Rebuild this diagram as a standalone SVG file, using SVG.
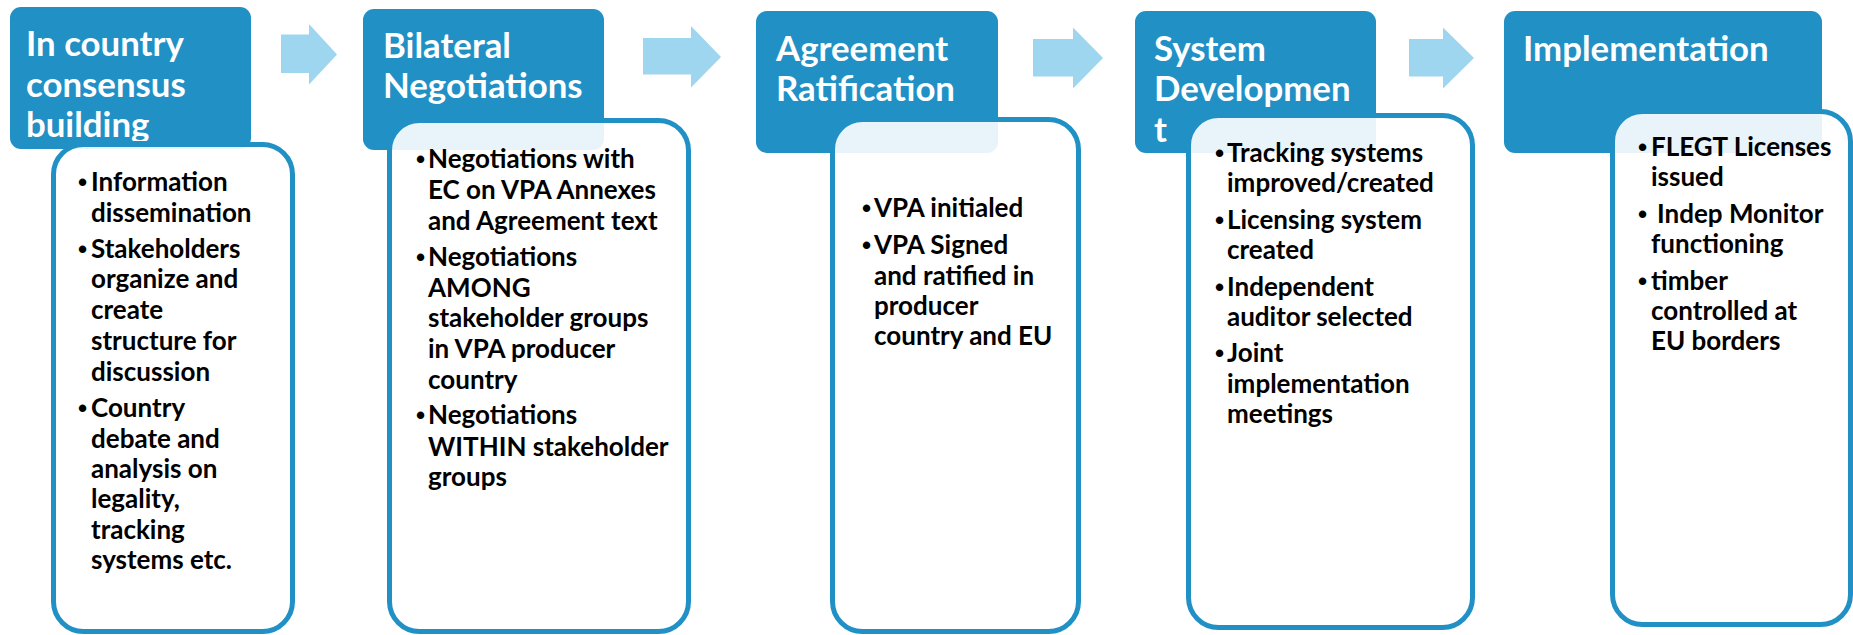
<svg xmlns="http://www.w3.org/2000/svg" width="1853" height="635" viewBox="0 0 1853 635">
  <style>
    .head { fill: #2190C5; }
    .body { fill: #FFFFFF; fill-opacity: 0.9; stroke: #2190C5; stroke-width: 5; }
    .arrow { fill: #9ED5EF; }
    .htxt { font-family: Lato, "Liberation Sans", sans-serif; font-weight: bold; font-size: 34.8px; fill: #FFFFFF; }
    .btxt { font-family: Lato, "Liberation Sans", sans-serif; font-weight: bold; font-size: 26px; fill: #000000; }
    .dot { font-family: "Liberation Sans", sans-serif; font-weight: bold; font-size: 26px; fill: #000000; }
  </style>
  <defs>
    <clipPath id="clip-head1">
      <rect x="10" y="7" width="241" height="134"/>
    </clipPath>
  </defs>
  <rect width="1853" height="635" fill="#FFFFFF"/>

  <!-- step arrows between stages -->
  <g id="connectors">
    <polygon class="arrow" points="281,34.5 309,34.5 309,24 337,54.5 309,84.5 309,73 281,73"/>
    <polygon class="arrow" points="643,38 691,38 691,26 721,57 691,87.5 691,74.5 643,74.5"/>
    <polygon class="arrow" points="1033,39 1073,39 1073,27.5 1103,58 1073,88.5 1073,76.5 1033,76.5"/>
    <polygon class="arrow" points="1409,39 1443,39 1443,27.5 1474,58 1443,88.5 1443,76.5 1409,76.5"/>
  </g>

  <g id="stage-consensus">
    <rect class="head" x="10" y="7" width="241" height="142" rx="11"/>
    <text class="htxt" clip-path="url(#clip-head1)">
      <tspan x="26" y="56">In country</tspan>
      <tspan x="26" y="97">consensus</tspan>
      <tspan x="26" y="137">building</tspan>
    </text>
    <rect class="body" x="53.5" y="144.5" width="239" height="487" rx="30"/>
    <text class="dot">
      <tspan x="78" y="191">•</tspan>
      <tspan x="78" y="258">•</tspan>
      <tspan x="78" y="417">•</tspan>
    </text>
    <text class="btxt">
      <tspan x="91" y="191">Information</tspan>
      <tspan x="91" y="222">dissemination</tspan>
      <tspan x="91" y="258">Stakeholders</tspan>
      <tspan x="91" y="288">organize and</tspan>
      <tspan x="91" y="319">create</tspan>
      <tspan x="91" y="350">structure for</tspan>
      <tspan x="91" y="381">discussion</tspan>
      <tspan x="91" y="417">Country</tspan>
      <tspan x="91" y="448">debate and</tspan>
      <tspan x="91" y="478">analysis on</tspan>
      <tspan x="91" y="508">legality,</tspan>
      <tspan x="91" y="539">tracking</tspan>
      <tspan x="91" y="569">systems etc.</tspan>
    </text>
  </g>

  <g id="stage-negotiations">
    <rect class="head" x="363" y="9" width="241" height="141" rx="11"/>
    <text class="htxt">
      <tspan x="383" y="58">Bilateral</tspan>
      <tspan x="383" y="98">Negotiations</tspan>
    </text>
    <rect class="body" x="389.5" y="120.5" width="299" height="511" rx="30"/>
    <text class="dot">
      <tspan x="416" y="168">•</tspan>
      <tspan x="416" y="266">•</tspan>
      <tspan x="416" y="424">•</tspan>
    </text>
    <text class="btxt">
      <tspan x="428" y="168">Negotiations with</tspan>
      <tspan x="428" y="199">EC on VPA Annexes</tspan>
      <tspan x="428" y="230">and Agreement text</tspan>
      <tspan x="428" y="266">Negotiations</tspan>
      <tspan x="428" y="297">AMONG</tspan>
      <tspan x="428" y="327">stakeholder groups</tspan>
      <tspan x="428" y="358">in VPA producer</tspan>
      <tspan x="428" y="389">country</tspan>
      <tspan x="428" y="424">Negotiations</tspan>
      <tspan x="428" y="456">WITHIN stakeholder</tspan>
      <tspan x="428" y="486">groups</tspan>
    </text>
  </g>

  <g id="stage-ratification">
    <rect class="head" x="756" y="11" width="242" height="142" rx="11"/>
    <text class="htxt">
      <tspan x="776" y="61">Agreement</tspan>
      <tspan x="776" y="101">Ratification</tspan>
    </text>
    <rect class="body" x="832.5" y="119.5" width="246" height="512" rx="30"/>
    <text class="dot">
      <tspan x="862" y="217">•</tspan>
      <tspan x="862" y="254">•</tspan>
    </text>
    <text class="btxt">
      <tspan x="874" y="217">VPA initialed</tspan>
      <tspan x="874" y="254">VPA Signed</tspan>
      <tspan x="874" y="285">and ratified in</tspan>
      <tspan x="874" y="315">producer</tspan>
      <tspan x="874" y="345">country and EU</tspan>
    </text>
  </g>

  <g id="stage-system">
    <rect class="head" x="1135" y="11" width="241" height="142" rx="11"/>
    <text class="htxt">
      <tspan x="1154" y="61">System</tspan>
      <tspan x="1154" y="101">Developmen</tspan>
      <tspan x="1154" y="142">t</tspan>
    </text>
    <rect class="body" x="1188.5" y="115.5" width="284" height="512" rx="30"/>
    <text class="dot">
      <tspan x="1215" y="162">•</tspan>
      <tspan x="1215" y="229">•</tspan>
      <tspan x="1215" y="296">•</tspan>
      <tspan x="1215" y="362">•</tspan>
    </text>
    <text class="btxt">
      <tspan x="1227" y="162">Tracking systems</tspan>
      <tspan x="1227" y="192">improved/created</tspan>
      <tspan x="1227" y="229">Licensing system</tspan>
      <tspan x="1227" y="259">created</tspan>
      <tspan x="1227" y="296">Independent</tspan>
      <tspan x="1227" y="326">auditor selected</tspan>
      <tspan x="1227" y="362">Joint</tspan>
      <tspan x="1227" y="393">implementation</tspan>
      <tspan x="1227" y="423">meetings</tspan>
    </text>
  </g>

  <g id="stage-implementation">
    <rect class="head" x="1504" y="11" width="318" height="142" rx="11"/>
    <text class="htxt">
      <tspan x="1523" y="61">Implementation</tspan>
    </text>
    <rect class="body" x="1612.5" y="111.5" width="238" height="513" rx="30"/>
    <text class="dot">
      <tspan x="1638" y="156">•</tspan>
      <tspan x="1638" y="223">•</tspan>
      <tspan x="1638" y="290">•</tspan>
    </text>
    <text class="btxt">
      <tspan x="1651" y="156">FLEGT Licenses</tspan>
      <tspan x="1651" y="186">issued</tspan>
      <tspan x="1657" y="223">Indep Monitor</tspan>
      <tspan x="1651" y="253">functioning</tspan>
      <tspan x="1651" y="290">timber</tspan>
      <tspan x="1651" y="320">controlled at</tspan>
      <tspan x="1651" y="350">EU borders</tspan>
    </text>
  </g>
</svg>
